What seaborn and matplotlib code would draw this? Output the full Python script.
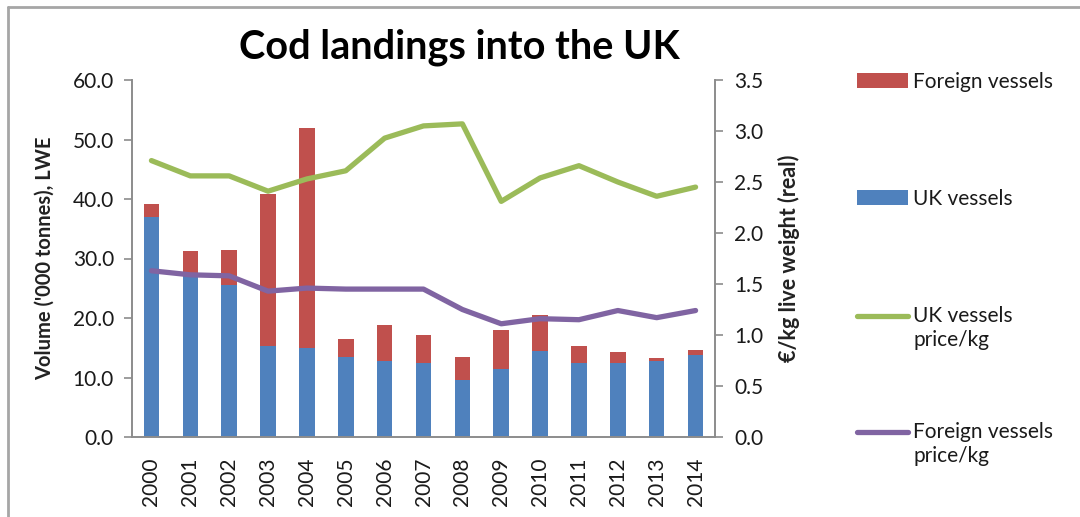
import numpy as np
import pandas as pd
import matplotlib
matplotlib.use("Agg")
import matplotlib.pyplot as plt
from matplotlib.lines import Line2D
from matplotlib.patches import Patch
from matplotlib.legend_handler import HandlerBase
import seaborn as sns

years = ["2000", "2001", "2002", "2003", "2004", "2005", "2006", "2007",
         "2008", "2009", "2010", "2011", "2012", "2013", "2014"]
uk_volume = [36.9, 27.6, 25.6, 15.3, 14.9, 13.5, 12.7, 12.5, 9.5, 11.4, 14.5, 12.5, 12.5, 12.8, 13.8]
foreign_volume = [2.2, 3.7, 5.9, 25.6, 37.1, 3.0, 6.1, 4.7, 4.0, 6.6, 6.0, 2.8, 1.8, 0.5, 0.8]
uk_price = [2.71, 2.56, 2.56, 2.41, 2.53, 2.61, 2.93, 3.05, 3.07, 2.31, 2.54, 2.66, 2.50, 2.36, 2.45]
foreign_price = [1.63, 1.59, 1.58, 1.43, 1.46, 1.45, 1.45, 1.45, 1.25, 1.11, 1.16, 1.15, 1.24, 1.17, 1.24]

C_UK = "#4F81BD"
C_FOR = "#C0504D"
C_GREEN = "#9BBB59"
C_PURPLE = "#8064A2"
GRAY = "#8C8C8C"
TXT = "#1a1a1a"

sns.set_theme(style="white")
plt.rcParams["font.family"] = ["Lato", "DejaVu Sans"]

df = pd.DataFrame({"year": years, "uk": uk_volume, "foreign": foreign_volume,
                   "uk_price": uk_price, "foreign_price": foreign_price})
df["total"] = df["uk"] + df["foreign"]
df["pos"] = np.arange(len(years))

fig = plt.figure(figsize=(10.8, 5.17), dpi=100)
ax = fig.add_axes([132 / 1080, 1 - 437 / 517, (715 - 132) / 1080, (437 - 80) / 517])

sns.barplot(data=df, x="year", y="total", color=C_FOR, width=0.4, saturation=1, ax=ax, linewidth=0)
sns.barplot(data=df, x="year", y="uk", color=C_UK, width=0.4, saturation=1, ax=ax, linewidth=0)

ax.set_xlim(-0.5, len(years) - 0.5)
ax.set_ylim(0, 60)
ax.set_yticks(np.arange(0, 61, 10))
ax.set_yticklabels([f"{v:.1f}" for v in np.arange(0, 61, 10)])
ax.set_xlabel("")
ax.set_ylabel("Volume ('000 tonnes), LWE", fontsize=14.5, fontweight="bold", color="#222222")
ax.yaxis.set_label_coords((55 - 132) / 583, 0.5)
ax.tick_params(axis="x", which="major", length=0, labelrotation=90, labelsize=15, pad=15, labelcolor=TXT)
ax.set_xticks(np.arange(-0.5, len(years), 1), minor=True)
ax.tick_params(axis="x", which="minor", length=7, width=1.2, color=GRAY, direction="out")
ax.tick_params(axis="y", length=6, width=1.2, color=GRAY, direction="out", labelsize=15,
               labelcolor=TXT, left=True, pad=7)
for s in ["top", "right"]:
    ax.spines[s].set_visible(False)
for s in ["left", "bottom"]:
    ax.spines[s].set_color(GRAY)
    ax.spines[s].set_linewidth(1.4)

ax2 = ax.twinx()
sns.lineplot(data=df, x="pos", y="uk_price", color=C_GREEN, linewidth=3.8, ax=ax2)
sns.lineplot(data=df, x="pos", y="foreign_price", color=C_PURPLE, linewidth=3.8, ax=ax2)
ax2.set_ylim(0, 3.5)
ax2.set_yticks(np.arange(0, 3.51, 0.5))
ax2.set_yticklabels([f"{v:.1f}" for v in np.arange(0, 3.51, 0.5)])
ax2.set_ylabel("€/kg live weight (real)", fontsize=15.5, fontweight="bold", color="#222222", labelpad=10)
ax2.tick_params(axis="y", length=6, width=1.2, color=GRAY, direction="out", labelsize=15,
                labelcolor=TXT, right=True, pad=8)
ax2.set_xlim(-0.5, len(years) - 0.5)
ax2.set_xlabel("")
for s in ["top", "left", "bottom"]:
    ax2.spines[s].set_visible(False)
ax2.spines["right"].set_color(GRAY)
ax2.spines["right"].set_linewidth(1.4)

fig.text(459 / 1080, 1 - 47 / 517, "Cod landings into the UK", ha="center", va="center",
         fontsize=28.5, fontweight="bold", color="black")


class TopAlignedLine(HandlerBase):
    def __init__(self, shift=0.0):
        super().__init__()
        self.shift = shift

    def create_artists(self, legend, orig_handle, xdescent, ydescent, width, height, fontsize, trans):
        y = height / 2 - ydescent + self.shift * fontsize
        line = Line2D([-xdescent, -xdescent + width], [y, y], color=orig_handle.get_color(),
                      linewidth=orig_handle.get_linewidth(), solid_capstyle="round")
        line.set_transform(trans)
        return [line]


entries = [
    (Patch(facecolor=C_FOR, edgecolor="none"), "Foreign vessels", 72, None),
    (Patch(facecolor=C_UK, edgecolor="none"), "UK vessels", 189, None),
    (Line2D([], [], color=C_GREEN, linewidth=3.8), "UK vessels\nprice/kg", 306, 0.6),
    (Line2D([], [], color=C_PURPLE, linewidth=3.8), "Foreign vessels\nprice/kg", 422, 0.6),
]
for handle, label, ytop, shift in entries:
    kw = {}
    if shift is not None:
        kw["handler_map"] = {Line2D: TopAlignedLine(shift)}
    leg = fig.legend([handle], [label], loc="upper left", bbox_to_anchor=(857 / 1080, 1 - ytop / 517),
                     frameon=False, fontsize=15, handlelength=2.45, handleheight=0.7, handletextpad=0.25,
                     borderpad=0, borderaxespad=0, labelspacing=0.25, **kw)
    for t in leg.get_texts():
        t.set_color(TXT)
        t.set_linespacing(1.25)

fig.add_artist(Line2D([8 / 1080, 1.0], [1 - 7 / 517, 1 - 7 / 517], transform=fig.transFigure,
                      color="#A6A6A6", linewidth=2))
fig.add_artist(Line2D([8 / 1080, 8 / 1080], [0, 1 - 7 / 517], transform=fig.transFigure,
                      color="#A6A6A6", linewidth=2))

fig.savefig("out.png", dpi=100)
